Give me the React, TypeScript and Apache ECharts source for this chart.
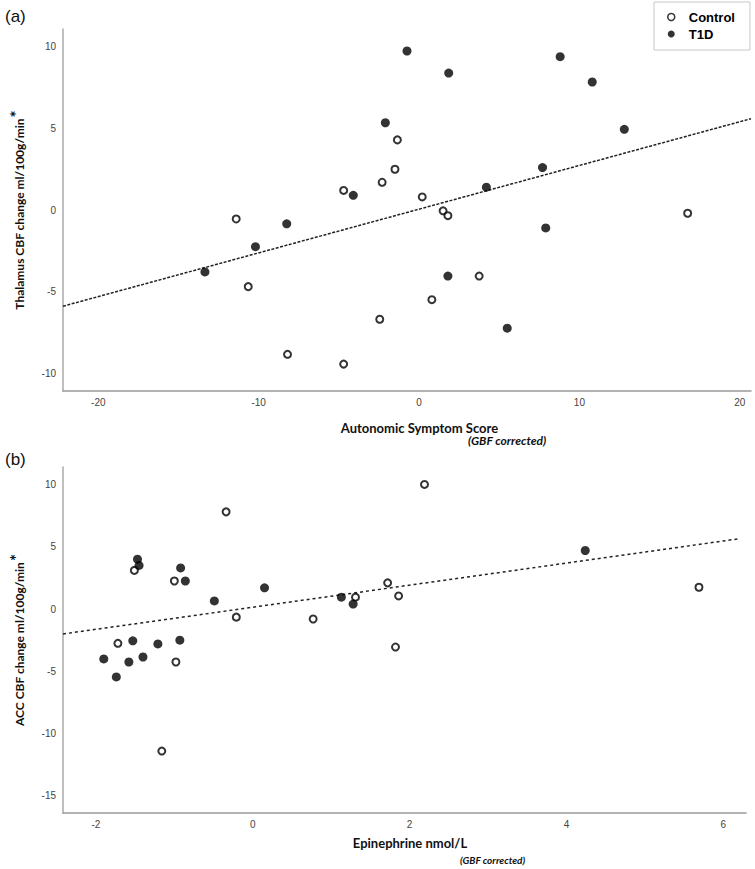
import React, { useEffect, useRef } from "react";
import * as echarts from "echarts";

// Panel (a): Thalamus CBF change vs Autonomic Symptom Score
const thalamusControl: [number, number][] = [
  [-11.4, -0.55], [-10.65, -4.7], [-8.2, -8.85], [-4.7, -9.45], [-4.7, 1.2],
  [-2.3, 1.7], [-1.5, 2.5], [-1.35, 4.3], [-2.45, -6.7], [0.2, 0.8],
  [1.5, -0.05], [1.8, -0.35], [0.8, -5.5], [3.75, -4.05], [16.75, -0.2],
];
const thalamusT1D: [number, number][] = [
  [-13.35, -3.8], [-10.2, -2.25], [-8.25, -0.85], [-4.1, 0.9], [-2.1, 5.35],
  [-0.75, 9.75], [1.85, 8.4], [1.8, -4.05], [4.2, 1.4], [5.5, -7.25],
  [7.7, 2.6], [7.9, -1.1], [8.8, 9.4], [10.8, 7.85], [12.8, 4.95],
];
const thalamusFit: [number, number][] = [[-22.2, -5.9], [20.7, 5.6]];
const thalamusXTicks = [-20, -10, 0, 10, 20];
const thalamusYTicks = [-10, -5, 0, 5, 10];

// Panel (b): ACC CBF change vs Epinephrine
const accControl: [number, number][] = [
  [-0.34, 7.8], [-1.51, 3.1], [-1.0, 2.25], [-0.21, -0.65], [-1.72, -2.75],
  [-0.98, -4.25], [-1.16, -11.4], [2.19, 10.0], [5.69, 1.75], [1.72, 2.1],
  [1.86, 1.05], [1.31, 0.95], [0.77, -0.8], [1.82, -3.05],
];
const accT1D: [number, number][] = [
  [-1.47, 4.0], [-1.45, 3.5], [-0.92, 3.3], [-0.86, 2.25], [-0.49, 0.65],
  [0.15, 1.7], [-1.53, -2.55], [-1.21, -2.8], [-0.93, -2.5], [-1.9, -4.0],
  [-1.58, -4.25], [-1.4, -3.85], [-1.74, -5.45], [4.24, 4.7], [1.13, 0.95],
  [1.28, 0.4],
];
const accFit: [number, number][] = [[-2.42, -2.0], [6.18, 5.62]];
const accXTicks = [-2, 0, 2, 4, 6];
const accYTicks = [-15, -10, -5, 0, 5, 10];

const TICK_FONT = "Liberation Sans";
const TITLE_FONT = "Lato";

function axisBase(color: string) {
  return {
    axisLine: { show: true, onZero: false, lineStyle: { color, width: 1.5 } },
    axisTick: { show: false },
    splitLine: { show: false },
  };
}

const yNameStyle = {
  fontFamily: TITLE_FONT,
  fontWeight: "bold",
  fontSize: 12,
  color: "#111",
  rich: {
    s: { fontFamily: TITLE_FONT, fontWeight: "bold", fontSize: 17, color: "#111", padding: [0, 0, 6, 1] },
  },
};

export default function App() {
  const ref = useRef<HTMLDivElement>(null);
  useEffect(() => {
    document.body.style.margin = "0";
    if (!ref.current) return;
    const chart = echarts.init(ref.current, undefined, { renderer: "svg" });

    const openStyle = { color: "#ffffff", borderColor: "#000000", borderWidth: 2 };
    const filledStyle = { color: "#000000" };

    chart.setOption({
      animation: false,
      backgroundColor: "#ffffff",
      grid: [
        { left: 54, top: 29, width: 697, height: 362 },
        { left: 54, top: 467, width: 692, height: 346 },
      ],
      legend: {
        left: 654,
        top: 2,
        orient: "vertical",
        padding: [8, 15, 9, 13],
        itemGap: 3,
        itemWidth: 7,
        itemHeight: 7,
        borderColor: "#c8c8c8",
        borderWidth: 1,
        textStyle: {
          fontFamily: TICK_FONT,
          fontWeight: "bold",
          fontSize: 13,
          color: "#000",
          lineHeight: 14,
          padding: [0, 0, 0, 9],
        },
        data: [
          { name: "Control", icon: "circle", itemStyle: { color: "#fff", borderColor: "#000", borderWidth: 1.5 } },
          { name: "T1D", icon: "circle", itemStyle: { color: "#000" } },
        ],
      },
      xAxis: [
        {
          type: "value",
          gridIndex: 0,
          min: -22.2,
          max: 20.7,
          ...axisBase("#999"),
          axisLabel: {
            customValues: thalamusXTicks,
            fontFamily: TICK_FONT,
            fontSize: 10,
            color: "#444",
            margin: 6,
          },
          name: "Autonomic Symptom Score",
          nameLocation: "middle",
          nameGap: 30,
          nameTextStyle: {
            fontFamily: TITLE_FONT,
            fontWeight: "bold",
            fontSize: 13,
            color: "#111",
            padding: [0, 0, 0, 25],
          },
        },
        {
          type: "value",
          gridIndex: 1,
          min: -2.42,
          max: 6.29,
          ...axisBase("#999"),
          axisLabel: {
            customValues: accXTicks,
            fontFamily: TICK_FONT,
            fontSize: 10,
            color: "#444",
            margin: 6,
          },
          name: "Epinephrine nmol/L",
          nameLocation: "middle",
          nameGap: 23,
          nameTextStyle: {
            fontFamily: TITLE_FONT,
            fontWeight: "bold",
            fontSize: 13,
            color: "#111",
            padding: [0, 0, 0, 11],
          },
        },
      ],
      yAxis: [
        {
          type: "value",
          gridIndex: 0,
          min: -11.1,
          max: 11.1,
          ...axisBase("#aaa"),
          axisLabel: {
            customValues: thalamusYTicks,
            fontFamily: TICK_FONT,
            fontSize: 10,
            color: "#444",
            margin: 7,
          },
          name: "Thalamus CBF change ml/100g/min{s|*}",
          nameLocation: "middle",
          nameGap: 32,
          nameRotate: 90,
          nameTextStyle: yNameStyle,
        },
        {
          type: "value",
          gridIndex: 1,
          min: -16.37,
          max: 11.4,
          ...axisBase("#aaa"),
          axisLabel: {
            customValues: accYTicks,
            fontFamily: TICK_FONT,
            fontSize: 10,
            color: "#444",
            margin: 7,
          },
          name: "ACC CBF change ml/100g/min{s|*}",
          nameLocation: "middle",
          nameGap: 32,
          nameRotate: 90,
          nameTextStyle: yNameStyle,
        },
      ],
      series: [
        {
          name: "Fit (a)",
          type: "line",
          xAxisIndex: 0,
          yAxisIndex: 0,
          data: thalamusFit,
          symbol: "none",
          silent: true,
          lineStyle: { color: "#222", width: 1.5, type: [3, 1.5] },
          z: 1,
        },
        {
          name: "Control",
          type: "scatter",
          xAxisIndex: 0,
          yAxisIndex: 0,
          data: thalamusControl,
          symbol: "circle",
          symbolSize: 7,
          itemStyle: openStyle,
          z: 3,
        },
        {
          name: "T1D",
          type: "scatter",
          xAxisIndex: 0,
          yAxisIndex: 0,
          data: thalamusT1D,
          symbol: "circle",
          symbolSize: 9,
          itemStyle: filledStyle,
          z: 3,
        },
        {
          name: "Fit (b)",
          type: "line",
          xAxisIndex: 1,
          yAxisIndex: 1,
          data: accFit,
          symbol: "none",
          silent: true,
          lineStyle: { color: "#222", width: 1.5, type: [3, 3] },
          z: 1,
        },
        {
          name: "Control",
          type: "scatter",
          xAxisIndex: 1,
          yAxisIndex: 1,
          data: accControl,
          symbol: "circle",
          symbolSize: 7,
          itemStyle: openStyle,
          z: 3,
        },
        {
          name: "T1D",
          type: "scatter",
          xAxisIndex: 1,
          yAxisIndex: 1,
          data: accT1D,
          symbol: "circle",
          symbolSize: 9,
          itemStyle: filledStyle,
          z: 3,
        },
      ],
      graphic: [
        {
          type: "text",
          left: 5,
          top: 8,
          style: { text: "(a)", font: "17px 'Liberation Sans'", fill: "#111" },
        },
        {
          type: "text",
          left: 5,
          top: 451,
          style: { text: "(b)", font: "17px 'Liberation Sans'", fill: "#111" },
        },
        {
          type: "text",
          left: 468,
          top: 434,
          style: { text: "(GBF corrected)", font: "italic bold 12px Lato", fill: "#111" },
        },
        {
          type: "text",
          left: 460,
          top: 855,
          style: { text: "(GBF corrected)", font: "italic bold 10px Lato", fill: "#111" },
        },
      ],
    });
    return () => chart.dispose();
  }, []);
  return <div ref={ref} style={{ width: 755, height: 869 }} />;
}
